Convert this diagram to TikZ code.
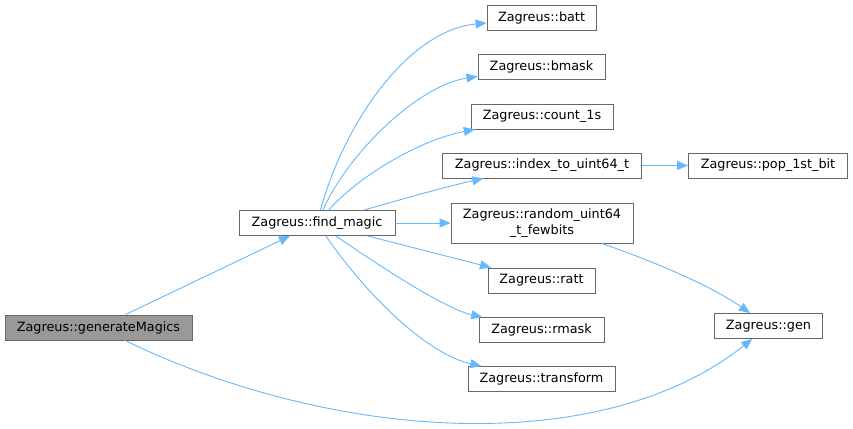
\documentclass[tikz,border=0pt]{standalone}
\usepackage{fontspec}
\setmainfont{DejaVu Sans}
\usetikzlibrary{arrows.meta}
\definecolor{edgeblue}{HTML}{63B8FF}
\definecolor{boxgray}{HTML}{666666}
\definecolor{fillgray}{HTML}{999999}

\begin{document}
\begin{tikzpicture}[x=1pt,y=-1pt,
  fn/.style={draw=boxgray,fill=white,line width=0.9pt,minimum height=25pt,inner sep=0pt,
    font=\fontsize{12.8}{15.5}\selectfont},
  call/.style={draw=edgeblue,line width=0.9pt,-{Triangle[length=11pt,width=9pt]}}]

\useasboundingbox (0,0) rectangle (853,428);

\node[fn,fill=fillgray,minimum width=187pt] (gm) at (98.5,327.5) {Zagreus::generateMagics};
\node[fn,minimum width=156pt] (fm) at (317,223) {Zagreus::find\_magic};

\node[fn,minimum width=109pt] (batt) at (541.5,18) {Zagreus::batt};
\node[fn,minimum width=127pt] (bmask) at (541.5,67) {Zagreus::bmask};
\node[fn,minimum width=142pt] (count) at (542,116.5) {Zagreus::count\_1s};
\node[fn,minimum width=199pt] (index) at (542,165.5) {Zagreus::index\_to\_uint64\_t};
\node[fn,minimum width=182pt,minimum height=40pt,align=center] (rand) at (542,223)
  {Zagreus::random\_uint64\\\_t\_fewbits};
\node[fn,minimum width=107pt] (ratt) at (541.5,280.5) {Zagreus::ratt};
\node[fn,minimum width=125pt] (rmask) at (541.5,330) {Zagreus::rmask};
\node[fn,minimum width=147pt] (trans) at (541.5,379) {Zagreus::transform};

\node[fn,minimum width=159pt] (pop) at (768,165.5) {Zagreus::pop\_1st\_bit};
\node[fn,minimum width=108pt] (gen) at (768.5,326) {Zagreus::gen};

\draw[call] (gm) -- (fm);
\draw[call] (gm) .. controls (330,440) and (600,460) .. (gen);

\draw[call] (fm) .. controls (345,120) and (410,30) .. (batt);
\draw[call] (fm) .. controls (350,150) and (420,85) .. (bmask);
\draw[call] (fm) .. controls (360,175) and (420,140) .. (count);
\draw[call] (fm) .. controls (400,200) and (440,188) .. (index);
\draw[call] (fm) -- (rand);
\draw[call] (fm) -- (ratt);
\draw[call] (fm) .. controls (400,280) and (450,310) .. (rmask);
\draw[call] (fm) .. controls (370,300) and (430,355) .. (trans);

\draw[call] (index) -- (pop);
\draw[call] (rand) .. controls (650,260) and (710,285) .. (gen);

\end{tikzpicture}
\end{document}
